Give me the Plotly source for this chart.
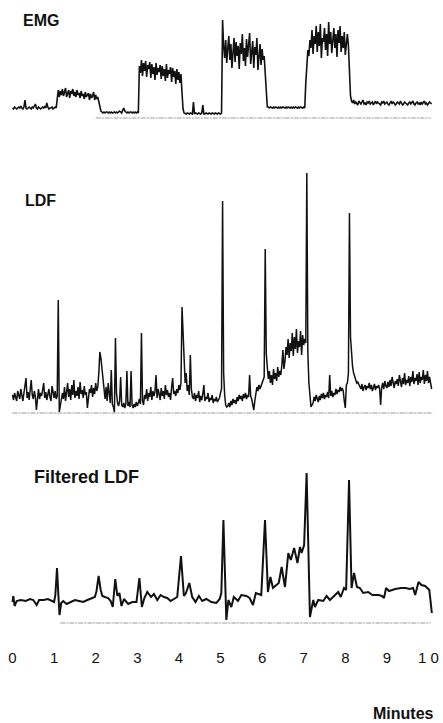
import plotly.graph_objects as go

# ---------------- data ----------------
SAMPLE_DT = 0.025  # minutes between samples of the EMG and LDF records

# EMG record (arbitrary units above the recorder baseline)
emg_v = [
    # 0.000-1.050 rest
    10, 9, 11, 10, 9, 10, 11, 10, 12, 10, 9, 11, 18, 10, 9, 10, 11, 10, 9, 11,
    10, 12, 14, 10, 9, 11, 10, 9, 10, 11, 10, 12, 10, 15, 11, 9, 10, 10, 11, 9,
    10, 11, 10,
    # 1.075-2.075 contraction 1
    24, 28, 21, 27, 23, 29, 22, 26, 30, 21, 25, 28, 20, 27, 24, 29, 22, 26, 21, 28,
    23, 25, 20, 27, 22, 24, 19, 26, 21, 23, 25, 18, 24, 20, 22, 26, 18, 23, 19, 21,
    17,
    12, 7,
    # 2.150-3.025 rest
    6, 5, 6, 5, 6, 6, 5, 6, 5, 6, 5, 6, 6, 5, 6, 5, 6, 7, 6, 5,
    8, 10, 7, 6, 5, 6, 5, 6, 6, 5, 6, 5, 6, 5, 6, 5,
    # 3.050-4.050 contraction 2
    52, 45, 58, 42, 55, 47, 57, 41, 53, 49, 56, 40, 54, 44, 51, 38, 55, 43, 50, 46,
    53, 39, 52, 42, 49, 37, 54, 40, 48, 44, 51, 36, 50, 41, 47, 34, 49, 38, 46, 35,
    44,
    25, 9,
    # 4.125-5.025 rest
    5, 4, 4, 5, 4, 4, 5, 4, 4, 16, 4, 5, 4, 4, 5, 4, 4, 5, 13, 4,
    4, 5, 4, 4, 5, 4, 4, 5, 4, 4, 5, 4, 4, 5, 4, 4, 5,
    98,
    # 5.075-6.050 contraction 3
    72, 60, 78, 55, 70, 82, 58, 74, 50, 68, 80, 56, 76, 62, 72, 49, 75, 64, 84, 57,
    70, 52, 79, 61, 73, 85, 54, 68, 77, 50, 71, 63, 80, 48, 66, 74, 53, 69, 58, 62,
    45, 20, 11,
    # 6.150-7.025 rest
    11, 10, 11, 10, 10, 11, 10, 11, 10, 10, 11, 10, 11, 10, 11, 10, 10, 11, 10, 11,
    10, 10, 11, 10, 11, 10, 11, 10, 10, 11, 10, 11, 10, 10, 11, 10,
    35,
    # 7.075-8.075 contraction 4
    56, 68, 62, 78, 70, 88, 64, 82, 74, 92, 66, 86, 72, 94, 60, 80, 76, 90, 68, 84,
    62, 96, 74, 86, 65, 80, 90, 70, 84, 61, 88, 75, 92, 66, 82, 70, 86, 63, 78, 84,
    72,
    45, 22,
    # 8.150-10.075 recovery
    17, 15, 18, 14, 16, 15, 13, 17, 15, 14, 16, 18, 14, 15, 13, 16, 15, 17, 14, 15,
    16, 13, 15, 17, 14, 16, 15, 14, 13, 16, 15, 17, 14, 15, 16, 14, 13, 15, 17, 14,
    16, 15, 13, 14, 16, 15, 14, 17, 15, 13, 14, 16, 15, 14, 13, 15, 16, 14, 15, 17,
    14, 13, 15, 16, 14, 15, 13, 16, 14, 15, 17, 14, 15, 13, 14, 16, 15, 14,
]

# Laser Doppler flowmetry record
ldf_v = [
    18, 13, 20, 15, 12, 22, 16, 14, 24, 17, 12, 20, 26, 35, 15, 21, 13, 28, 33, 18,
    14, 22, 16, 3, 19, 24, 14, 20, 17, 26, 30, 15, 21, 13, 19, 24, 16, 12, 27, 18,
    15, 22, 14, 17,
    113, 1, 8,
    10, 20, 14, 26, 12, 22, 30, 16, 24, 13, 28, 18, 33, 15, 22, 17, 26, 14, 31, 19,
    23, 15, 27, 18, 21, 5, 17, 24, 20, 28, 16, 25, 19, 30, 22, 26,
    40, 61, 55, 45, 30, 22,
    14, 26, 12, 30, 18, 10, 43, 9,
    6, 1, 75, 20,
    10, 7, 12, 36, 8, 6, 10, 5, 9, 42, 7, 11, 6, 42, 8, 5, 9, 6, 11, 7,
    10, 14, 9,
    80, 12,
    8, 18, 14, 24, 12, 20, 16, 26, 13, 22, 17, 21, 38, 15, 24, 19, 13, 25, 17, 22,
    14, 28, 18, 23, 16, 20, 13, 26, 35, 19, 22, 17, 24, 20, 28, 23, 30,
    106, 78, 56, 30, 40, 22, 28, 18, 58, 24, 16,
    14, 20, 12, 18, 15, 22, 11, 17, 13, 19, 28, 12, 16, 14, 20, 11, 15, 13, 18, 10,
    14, 12, 16, 11, 13, 15, 20, 24,
    212, 40, 18, 8, 6,
    7, 10, 6, 12, 8, 14, 10, 13, 9, 16, 12, 18, 14, 17, 12, 19, 15, 20, 14, 18,
    16, 38, 17,
    14, 8, 3, 12, 20, 26, 22, 28, 24, 27, 30, 32,
    36, 164, 60, 46,
    34, 42, 30, 38, 28, 44, 34, 40, 32, 46, 36, 42, 38, 48, 63, 44,
    52, 66, 58, 74, 55, 70, 62, 80, 57, 76, 64, 84, 60, 72, 66, 82, 58, 78, 68, 74,
    70, 240, 60, 30, 14, 6, 8,
    10, 16, 12, 18, 14, 11, 17, 13, 19, 15, 20, 14, 18, 16, 21, 15, 38, 17, 22, 16,
    20, 18, 24, 19, 23, 21, 26, 22, 25,
    22, 12, 5, 28, 30,
    40, 200, 76, 60, 46, 40, 36, 33, 30, 31, 28,
    27, 24, 29, 22, 26, 28, 23, 27, 25, 30, 24, 28, 22, 26, 29, 23, 27, 25, 28, 24,
    8, 26, 30, 24, 32, 27, 25, 31, 26, 33, 27, 36, 28, 25, 32, 29, 34, 27, 38, 30,
    26, 35, 29, 40, 28, 33, 30, 37, 27, 36, 31, 42, 29, 35, 32, 39, 28, 41, 30, 36,
    33, 43, 29, 38, 32, 42, 30, 36, 28, 24,
]

# Filtered LDF (smooth curve, irregular time points)
filt_t = [0.00, 0.02, 0.05, 0.10, 0.20, 0.32, 0.42, 0.50, 0.58, 0.64, 0.75, 0.85, 0.95, 1.00,
          1.03, 1.07, 1.10, 1.13, 1.17, 1.22, 1.30, 1.40, 1.50, 1.60, 1.70, 1.80, 1.90, 1.98,
          2.02, 2.07, 2.12, 2.16, 2.22, 2.30, 2.36, 2.41, 2.47, 2.52, 2.57, 2.62, 2.68, 2.78,
          2.88, 2.98, 3.05, 3.11, 3.17, 3.24, 3.33, 3.40, 3.48, 3.56, 3.64, 3.72, 3.80, 3.88,
          3.96, 4.05, 4.12, 4.17, 4.25, 4.32, 4.40, 4.48, 4.56, 4.66, 4.78, 4.90, 4.98, 5.02,
          5.07, 5.14, 5.19, 5.26, 5.32, 5.42, 5.50, 5.62, 5.70, 5.78, 5.85, 5.98, 6.07, 6.14,
          6.20, 6.26, 6.34, 6.40, 6.47, 6.55, 6.63, 6.69, 6.77, 6.85, 6.91, 6.95, 7.01, 7.07,
          7.15, 7.23, 7.27, 7.35, 7.47, 7.55, 7.63, 7.75, 7.83, 7.89, 7.97, 8.02, 8.09, 8.15,
          8.21, 8.28, 8.35, 8.43, 8.55, 8.65, 8.80, 8.88, 8.93, 8.98, 9.05, 9.20, 9.34, 9.45,
          9.55, 9.63, 9.68, 9.76, 9.83, 9.92, 10.02, 10.08]
filt_v = [21, 27, 17, 22, 23, 22, 24, 23, 18, 23, 23, 24, 22, 21,
          28, 55, 30, 8, 20, 22, 19, 21, 23, 22, 21, 23, 25, 26,
          32, 47, 33, 27, 26, 25, 22, 16, 44, 27, 30, 17, 24, 19,
          21, 21, 45, 16, 25, 31, 26, 29, 23, 28, 26, 25, 22, 24,
          26, 67, 27, 30, 40, 26, 21, 27, 22, 24, 21, 20, 24, 30,
          103, 3, 23, 16, 26, 22, 28, 27, 25, 18, 30, 28, 103, 31,
          46, 35, 38, 40, 56, 36, 70, 63, 75, 60, 76, 70, 78, 150,
          6, 23, 16, 23, 22, 27, 23, 28, 31, 26, 35, 33, 143, 35,
          50, 36, 35, 30, 31, 28, 28, 27, 25, 35, 32, 34, 35, 35,
          34, 35, 28, 41, 38, 37, 33, 10]

# faint recorder baselines (start, end in minutes) at zero level
emg_base_t = [2.0, 10.05]
ldf_base_t = [0.0, 10.1]
filt_base_t = [1.15, 10.05]
zero_level = [0, 0]

x_ticks = [0, 1, 2, 3, 4, 5, 6, 7, 8, 9, 10]
x_tick_text = ["0", "1", "2", "3", "4", "5", "6", "7", "8", "9", "1 0"]
x_title = "Minutes"
panel_titles = ["EMG", "LDF", "Filtered LDF"]

# ---------------- layout helpers (pixels) ----------------
W, H = 443, 723
X0_PX, PX_PER_MIN = 12.5, 41.6


def dom(top_px, bot_px):
    return [1 - bot_px / H, 1 - top_px / H]


def rng(top_px, bot_px, zero_px):
    return [zero_px - bot_px, zero_px - top_px]


emg_t = [round(i * SAMPLE_DT, 4) for i in range(len(emg_v))]
ldf_t = [round(i * SAMPLE_DT, 4) for i in range(len(ldf_v))]

fig = go.Figure()

base_style = dict(color="#9a9a9a", width=1, dash="5px,1px,2px,1px")
fig.add_trace(go.Scatter(x=emg_base_t, y=zero_level, mode="lines", line=base_style,
                         xaxis="x", yaxis="y", hoverinfo="skip"))
fig.add_trace(go.Scatter(x=ldf_base_t, y=zero_level, mode="lines", line=base_style,
                         xaxis="x", yaxis="y2", hoverinfo="skip"))
fig.add_trace(go.Scatter(x=filt_base_t, y=zero_level, mode="lines", line=base_style,
                         xaxis="x", yaxis="y3", hoverinfo="skip"))

fig.add_trace(go.Scatter(x=emg_t, y=emg_v, mode="lines",
                         line=dict(color="#111", width=1.6), xaxis="x", yaxis="y", name="EMG"))
fig.add_trace(go.Scatter(x=ldf_t, y=ldf_v, mode="lines",
                         line=dict(color="#111", width=1.5), xaxis="x", yaxis="y2", name="LDF"))
fig.add_trace(go.Scatter(x=filt_t, y=filt_v, mode="lines",
                         line=dict(color="#111", width=2.0), xaxis="x", yaxis="y3",
                         name="Filtered LDF"))

ax_common = dict(visible=False, fixedrange=True)
fig.update_layout(
    width=W, height=H, margin=dict(l=0, r=0, t=0, b=0),
    paper_bgcolor="white", plot_bgcolor="white", showlegend=False,
    font=dict(family="Liberation Sans, Arial, sans-serif", color="#111"),
    xaxis=dict(range=[-X0_PX / PX_PER_MIN, (W - X0_PX) / PX_PER_MIN],
               anchor="free", position=(H - 647) / H,
               tickmode="array", tickvals=x_ticks, ticktext=x_tick_text,
               ticks="", showgrid=False, zeroline=False, showline=False,
               tickfont=dict(size=15, color="#111")),
    yaxis=dict(domain=dom(0, 135), range=rng(0, 135, 118), **ax_common),
    yaxis2=dict(domain=dom(150, 420), range=rng(150, 420, 413), **ax_common),
    yaxis3=dict(domain=dom(440, 640), range=rng(440, 640, 623), **ax_common),
)

ann = [
    (panel_titles[0], 21, 20, 16, "left"),
    (panel_titles[1], 23, 200, 16, "left"),
    (panel_titles[2], 32, 477, 18, "left"),
    (x_title, 436, 713, 16, "right"),
]
for text, xp, yp, size, xa in ann:
    fig.add_annotation(text=f"<b>{text}</b>", xref="paper", yref="paper",
                       x=xp / W, y=1 - yp / H, xanchor=xa, yanchor="middle",
                       showarrow=False, font=dict(size=size, color="#111"))

fig.write_html("out.html")
